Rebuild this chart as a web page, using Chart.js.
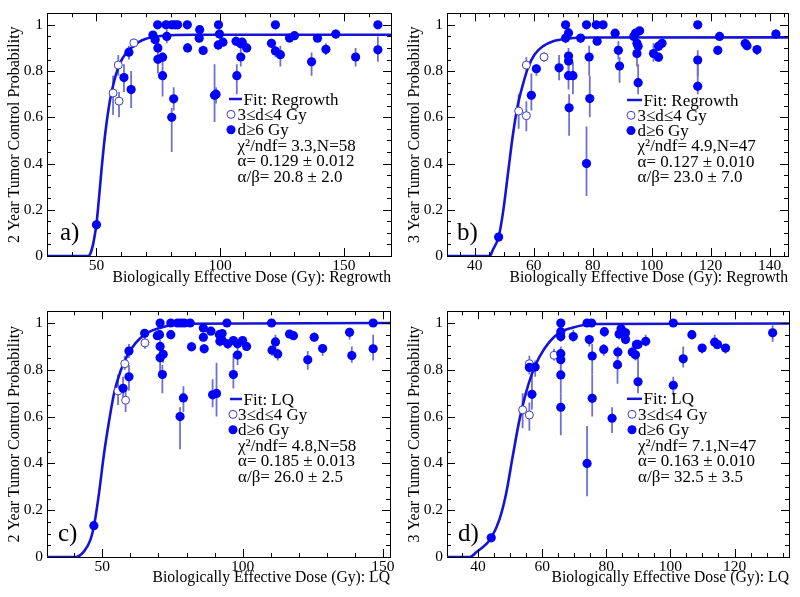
<!DOCTYPE html>
<html><head><meta charset="utf-8">
<script src="https://cdn.jsdelivr.net/npm/chart.js@4/dist/chart.umd.min.js"></script>
<style>
html,body{margin:0;padding:0;background:#fff;}
#wrap{position:relative;width:800px;height:597px;overflow:hidden;background:#fff;}
.panel{position:absolute;}
canvas{display:block;}
</style></head><body>
<div id="wrap">
<div class="panel" style="left:0;top:0"><canvas id="ca" width="400" height="298"></canvas></div>
<div class="panel" style="left:400px;top:0"><canvas id="cb" width="400" height="298"></canvas></div>
<div class="panel" style="left:0;top:298px"><canvas id="cc" width="400" height="299"></canvas></div>
<div class="panel" style="left:400px;top:298px"><canvas id="cd" width="400" height="299"></canvas></div>
</div>
<script>
// ---------- DATA: [dose, probability, errLow, errHigh] ----------
const aOpen = [[56.7,0.705,0.61,0.78],[58.8,0.826,0.78,0.87],[59.1,0.67,0.60,0.71],[65.1,0.922,0.90,0.94]];
const aFilled = [
 [50.0,0.135,0.115,0.155],[61.1,0.772,0.71,0.83],[63.1,0.882,0.85,0.91],[64.0,0.72,0.64,0.80],
 [72.8,0.956,0.94,0.97],[73.7,0.936,0.92,0.95],[74.7,1.0,0.985,1.0],[74.8,0.90,0.87,0.93],
 [74.8,0.851,0.79,0.89],[76.7,0.86,0.82,0.88],[76.7,0.78,0.69,0.82],[78.4,0.95,0.92,0.98],
 [78.1,1.0,0.985,1.0],[80.4,1.0,0.985,1.0],[81.7,1.0,0.985,1.0],[82.8,1.0,0.985,1.0],[86.7,1.0,0.985,1.0],
 [86.8,0.90,0.88,0.92],[80.4,0.60,0.45,0.64],[81.2,0.68,0.63,0.73],[91.7,0.979,0.965,0.99],
 [91.5,0.942,0.925,0.96],[93.1,0.889,0.87,0.91],[97.7,0.695,0.58,0.83],[98.3,0.70,0.66,0.73],
 [99.3,1.0,0.985,1.0],[99.7,0.96,0.94,0.98],[99.2,0.913,0.89,0.93],[101.1,0.925,0.91,0.94],
 [106.4,0.929,0.91,0.95],[108.3,0.918,0.90,0.94],[108.9,0.925,0.91,0.94],[108.3,0.861,0.82,0.90],
 [106.7,0.78,0.70,0.83],[110.7,0.90,0.88,0.92],[120.7,0.92,0.90,0.94],[122.3,1.0,0.985,1.0],
 [122.3,0.887,0.86,0.91],[124.3,0.871,0.82,0.91],[128.0,0.943,0.93,0.96],[130.0,0.953,0.94,0.97],
 [136.9,0.84,0.78,0.88],[139.3,0.942,0.93,0.96],[142.7,0.894,0.87,0.92],[146.7,0.96,0.94,0.98],
 [154.7,0.861,0.82,0.90],[163.7,1.0,0.985,1.0],[163.7,0.892,0.84,0.95]
];
const aFitX = [30,46.5,47.5,48.5,49.3,50,51,52,53,54,55,56,57,58,60,62,64,67,70,75,80,90,169];
const aFitY = [0,0,0.01,0.045,0.09,0.14,0.25,0.37,0.48,0.57,0.645,0.705,0.75,0.79,0.845,0.878,0.9,0.925,0.94,0.951,0.955,0.957,0.957];

const bOpen = [[54.9,0.627,0.55,0.70],[57.5,0.826,0.80,0.86],[57.5,0.607,0.54,0.67],[63.5,0.861,0.84,0.88]];
const bFilled = [
 [48.1,0.082,0.07,0.095],[59.2,0.695,0.63,0.79],[60.9,0.81,0.78,0.83],[68.6,0.814,0.76,0.87],
 [70.8,1.0,0.985,1.0],[71.8,0.965,0.94,0.99],[70.8,0.943,0.92,0.96],[71.8,0.865,0.82,0.90],
 [71.8,0.844,0.80,0.88],[71.8,0.78,0.72,0.84],[72.0,0.641,0.52,0.70],[73.3,0.78,0.70,0.84],
 [75.9,0.943,0.92,0.96],[77.9,1.0,0.985,1.0],[78.8,0.861,0.78,0.91],[79.0,0.681,0.60,0.78],
 [77.9,0.40,0.26,0.56],[81.2,1.0,0.985,1.0],[83.5,1.0,0.985,1.0],[81.5,0.929,0.91,0.95],
 [87.6,0.964,0.95,0.98],[88.7,0.89,0.85,0.93],[89.1,0.822,0.75,0.86],[93.9,0.95,0.93,0.97],
 [94.5,0.964,0.95,0.98],[95.9,0.974,0.96,0.99],[95.0,0.92,0.90,0.94],[95.4,0.907,0.89,0.93],
 [95.0,0.876,0.82,0.96],[95.4,0.75,0.70,0.83],[100.6,0.876,0.84,0.92],[102.3,0.86,0.84,0.88],
 [102.3,0.907,0.89,0.93],[103.5,0.92,0.90,0.94],[115.6,1.0,0.985,1.0],[115.6,0.848,0.78,0.89],
 [115.6,0.734,0.70,0.83],[122.4,0.89,0.87,0.91],[123.0,0.95,0.93,0.97],[131.7,0.919,0.90,0.94],
 [132.3,0.91,0.89,0.93],[135.7,0.893,0.87,0.91],[142.1,0.96,0.94,0.98]
];
const bFitX = [30,45.1,46.2,48.1,49.6,51.3,53.0,54.7,56.4,58.1,60.3,63.2,66.6,71.1,79,146.5];
const bFitY = [0,0,0.028,0.082,0.19,0.36,0.53,0.66,0.745,0.816,0.872,0.908,0.929,0.94,0.945,0.946];

const cOpen = [[55.6,0.71,0.65,0.78],[58.0,0.826,0.80,0.86],[58.3,0.67,0.62,0.72],[65.2,0.915,0.89,0.94]];
const cFilled = [
 [47.0,0.134,0.115,0.155],[57.4,0.721,0.67,0.77],[59.5,0.88,0.85,0.91],[59.5,0.77,0.71,0.82],
 [65.1,0.956,0.94,0.97],[69.6,0.946,0.93,0.96],[70.6,1.0,0.985,1.0],[70.6,0.90,0.86,0.93],
 [70.6,0.851,0.78,0.90],[71.7,0.866,0.83,0.89],[71.4,0.78,0.70,0.82],[70.4,0.95,0.93,0.97],
 [74.4,0.95,0.93,0.97],[74.4,1.0,0.985,1.0],[76.8,1.0,0.985,1.0],[78.0,1.0,0.985,1.0],
 [79.2,1.0,0.985,1.0],[81.3,1.0,0.985,1.0],[81.8,0.898,0.88,0.92],[77.7,0.60,0.46,0.64],
 [78.9,0.68,0.62,0.73],[86.0,0.979,0.965,0.99],[86.0,0.939,0.92,0.96],[86.3,0.89,0.87,0.91],
 [88.7,0.965,0.95,0.98],[89.3,0.693,0.64,0.76],[90.7,0.699,0.60,0.83],[91.7,0.95,0.93,0.97],
 [91.9,0.922,0.90,0.94],[92.7,0.955,0.94,0.97],[92.7,0.926,0.91,0.94],[94.4,1.0,0.985,1.0],
 [94.7,0.911,0.89,0.93],[96.7,0.925,0.91,0.94],[96.7,0.78,0.72,0.87],[98.2,0.911,0.89,0.93],
 [98.2,0.863,0.82,0.89],[100.0,0.925,0.91,0.94],[101.4,0.90,0.88,0.92],[110.3,1.0,0.985,1.0],
 [110.5,0.884,0.86,0.90],[111.7,0.919,0.89,0.95],[112.5,0.868,0.84,0.89],[116.7,0.953,0.94,0.97],
 [118.1,0.946,0.93,0.96],[123.2,0.843,0.80,0.88],[125.5,0.939,0.92,0.96],[128.5,0.891,0.86,0.91],
 [138.1,0.96,0.93,0.98],[138.9,0.861,0.83,0.90],[146.5,1.0,0.985,1.0],[146.5,0.89,0.84,0.95]
];
const cFitX = [30,40.5,43.5,45.8,47.0,48.8,50.6,52.4,54.2,56.5,58.9,61.9,66.1,70.8,78,152.5];
const cFitY = [0,0,0.024,0.074,0.13,0.27,0.44,0.58,0.70,0.795,0.86,0.915,0.958,0.98,0.997,1.0];

const dOpen = [[53.9,0.629,0.55,0.70],[56.0,0.826,0.80,0.86],[56.0,0.607,0.54,0.66],[63.7,0.862,0.84,0.89]];
const dFilled = [
 [44.1,0.082,0.07,0.095],[56.0,0.81,0.78,0.84],[56.8,0.695,0.63,0.79],[57.8,0.812,0.77,0.84],
 [65.8,1.0,0.985,1.0],[65.8,0.963,0.94,0.98],[65.8,0.942,0.92,0.96],[65.8,0.869,0.83,0.90],
 [65.8,0.843,0.80,0.88],[65.8,0.778,0.70,0.84],[65.8,0.64,0.52,0.70],[69.7,0.942,0.92,0.97],
 [74.0,1.0,0.985,1.0],[75.4,1.0,0.985,1.0],[74.7,0.929,0.90,0.95],[75.6,0.859,0.78,0.91],
 [75.6,0.678,0.60,0.78],[74.0,0.40,0.26,0.56],[79.4,0.963,0.94,0.98],[79.2,0.887,0.86,0.91],
 [81.8,0.593,0.53,0.64],[83.6,0.876,0.85,0.90],[83.5,0.822,0.74,0.86],[84.6,0.975,0.96,0.99],
 [84.0,0.953,0.93,0.97],[86.0,0.958,0.94,0.98],[86.0,0.929,0.91,0.95],[88.1,0.876,0.85,0.90],
 [89.1,0.864,0.84,0.89],[89.4,0.908,0.89,0.93],[89.9,0.908,0.89,0.93],[92.3,0.922,0.90,0.95],
 [89.9,0.749,0.70,0.85],[100.9,1.0,0.985,1.0],[100.9,0.734,0.69,0.77],[104.0,0.847,0.81,0.90],
 [106.7,0.95,0.93,0.97],[109.9,0.893,0.87,0.91],[113.8,0.918,0.89,0.95],[114.7,0.908,0.89,0.93],
 [117.2,0.893,0.87,0.91],[131.9,0.958,0.92,0.99]
];
const dFitX = [30,37.4,39.5,42.6,44.1,46.7,48.8,50.8,52.9,54.9,57.0,59.1,62.2,65.3,69.4,75.6,137];
const dFitY = [0,0,0.021,0.056,0.082,0.162,0.275,0.43,0.586,0.70,0.79,0.854,0.918,0.958,0.98,0.996,0.998];

const yTickLabels = ['0','0.2','0.4','0.6','0.8','1'];
const legendA = ['Fit: Regrowth','3\u2264d\u22644 Gy','d\u22656 Gy','\u03c7\u00b2/ndf= 3.3,N=58','\u03b1= 0.129 \u00b1 0.012','\u03b1/\u03b2= 20.8 \u00b1 2.0'];
const legendB = ['Fit: Regrowth','3\u2264d\u22644 Gy','d\u22656 Gy','\u03c7\u00b2/ndf= 4.9,N=47','\u03b1= 0.127 \u00b1 0.010','\u03b1/\u03b2= 23.0 \u00b1 7.0'];
const legendC = ['Fit: LQ','3\u2264d\u22644 Gy','d\u22656 Gy','\u03c7\u00b2/ndf= 4.8,N=58','\u03b1= 0.185 \u00b1 0.013','\u03b1/\u03b2= 26.0 \u00b1 2.5'];
const legendD = ['Fit: LQ','3\u2264d\u22644 Gy','d\u22656 Gy','\u03c7\u00b2/ndf= 7.1,N=47','\u03b1= 0.163 \u00b1 0.010','\u03b1/\u03b2= 32.5 \u00b1 3.5'];

// ---------- STYLE ----------
const FONT = "'Liberation Serif','Times New Roman',serif";
const BLUE = '#0000ff';
const FITC = '#1414d6';
const ERRC = '#7070d4';
const OPENC = '#3c3cc8';

const decoPlugin = {
  id: 'deco',
  beforeDatasetsDraw(chart) {
    const o = chart.options.plugins.deco;
    const ctx = chart.ctx, xs = chart.scales.x, ys = chart.scales.y, a = chart.chartArea;
    ctx.save();
    ctx.beginPath(); ctx.rect(a.left, a.top, a.right - a.left, a.bottom - a.top); ctx.clip();
    ctx.strokeStyle = ERRC; ctx.lineWidth = 1.8;
    for (const arr of [o.open, o.filled]) {
      for (const p of arr) {
        if (p[3] - p[2] <= 0.016) continue;
        const px = xs.getPixelForValue(p[0]);
        ctx.beginPath();
        ctx.moveTo(px, ys.getPixelForValue(p[2]));
        ctx.lineTo(px, ys.getPixelForValue(p[3]));
        ctx.stroke();
      }
    }
    ctx.restore();
  },
  afterDraw(chart) {
    const o = chart.options.plugins.deco;
    const ctx = chart.ctx, xs = chart.scales.x, ys = chart.scales.y, a = chart.chartArea;
    ctx.save();
    ctx.strokeStyle = '#000'; ctx.lineWidth = 1;
    ctx.strokeRect(Math.round(a.left) + 0.5, Math.round(a.top) + 0.5, Math.round(a.right - a.left), Math.round(a.bottom - a.top));
    ctx.beginPath();
    const x0 = Math.ceil(xs.min / o.xMinor - 1e-9) * o.xMinor;
    for (let v = x0; v <= xs.max + 1e-9; v += o.xMinor) {
      const isMaj = Math.abs(v / o.xMajor - Math.round(v / o.xMajor)) < 1e-6;
      const L = isMaj ? 8 : 4;
      const px = Math.round(xs.getPixelForValue(v)) + 0.5;
      ctx.moveTo(px, a.bottom); ctx.lineTo(px, a.bottom - L);
      ctx.moveTo(px, a.top); ctx.lineTo(px, a.top + L);
    }
    for (let k = 0; k <= 21; k++) {
      const v = k * 0.05;
      if (v > ys.max + 1e-9) break;
      const L = (k % 4 === 0) ? 8 : 4;
      const py = Math.round(ys.getPixelForValue(v)) + 0.5;
      ctx.moveTo(a.left, py); ctx.lineTo(a.left + L, py);
      ctx.moveTo(a.right, py); ctx.lineTo(a.right - L, py);
    }
    ctx.stroke();
    const lg = o.legend;
    const yb = i => lg.base0 + i * lg.step;
    ctx.strokeStyle = FITC; ctx.lineWidth = 2.5;
    ctx.beginPath(); ctx.moveTo(lg.lineX1, yb(0) - 5.5); ctx.lineTo(lg.lineX2, yb(0) - 5.5); ctx.stroke();
    ctx.beginPath(); ctx.arc(lg.markX, yb(1) - 5.5, 4, 0, Math.PI * 2);
    ctx.fillStyle = '#fff'; ctx.fill(); ctx.strokeStyle = OPENC; ctx.lineWidth = 1; ctx.stroke();
    ctx.beginPath(); ctx.arc(lg.markX, yb(2) - 5.5, 4.5, 0, Math.PI * 2); ctx.fillStyle = BLUE; ctx.fill();
    ctx.fillStyle = '#000'; ctx.font = '17px ' + FONT; ctx.textBaseline = 'alphabetic'; ctx.textAlign = 'left';
    lg.text.forEach((t, i) => ctx.fillText(t, i === 0 ? lg.fitTextX : lg.textX, yb(i)));
    ctx.font = '25px ' + FONT;
    ctx.fillText(o.letter, o.letterX, o.letterY);
    ctx.restore();
  }
};

function pts(arr) { return arr.map(p => ({x: p[0], y: p[1]})); }
function fitPts(xs, ys) { return xs.map((x, i) => ({x: x, y: ys[i]})); }

function makePanel(P) {
  const canvas = document.getElementById(P.id);
  const H = canvas.height;
  return new Chart(canvas, {
    type: 'scatter',
    data: {
      datasets: [
        { data: fitPts(P.fitX, P.fitY), showLine: true, borderColor: FITC, borderWidth: 2.6,
          pointRadius: 0, cubicInterpolationMode: 'monotone', fill: false, order: 3 },
        { data: pts(P.open), pointRadius: 4, pointStyle: 'circle', backgroundColor: '#fff',
          borderColor: OPENC, borderWidth: 1, order: 2 },
        { data: pts(P.filled), pointRadius: 4.6, pointStyle: 'circle', backgroundColor: BLUE,
          borderColor: BLUE, borderWidth: 0, order: 1 }
      ]
    },
    options: {
      responsive: false, animation: false, events: [],
      layout: { padding: { left: 0, top: P.padTop, right: P.padRight, bottom: 0 } },
      plugins: {
        legend: { display: false }, tooltip: { enabled: false },
        deco: { open: P.open, filled: P.filled, xMajor: P.xMajor, xMinor: P.xMinor,
                legend: P.legend, letter: P.letter, letterX: P.letterX, letterY: P.letterY }
      },
      scales: {
        x: {
          type: 'linear', min: P.xMin, max: P.xMax,
          grid: { display: false, drawTicks: false }, border: { display: false },
          ticks: { stepSize: P.xMajor, includeBounds: false, autoSkip: false, maxRotation: 0,
                   padding: 1, color: '#000', font: { family: FONT, size: 15.5 },
                   callback: v => String(Math.round(v)) },
          title: { display: true, text: P.xTitle, align: 'end', color: '#000',
                   font: { family: FONT, size: 15.7 }, padding: { top: 0, bottom: P.xTitlePad } },
          afterFit: s => { s.height = H - P.areaBottom; }
        },
        y: {
          type: 'linear', min: 0, max: 1.05,
          grid: { display: false, drawTicks: false }, border: { display: false },
          ticks: { stepSize: 0.2, includeBounds: false, autoSkip: false, padding: 4, color: '#000',
                   font: { family: FONT, size: 15.5 },
                   callback: v => yTickLabels[Math.round(v * 5)] },
          title: { display: true, text: P.yTitle, color: '#000',
                   font: { family: FONT, size: 16 }, padding: { top: 5, bottom: 0 } },
          afterFit: s => { s.width = 47; }
        }
      }
    },
    plugins: [decoPlugin]
  });
}

makePanel({ id: 'ca', open: aOpen, filled: aFilled, fitX: aFitX, fitY: aFitY,
  xMin: 30, xMax: 169, xMajor: 50, xMinor: 10, padTop: 9, padRight: 9, areaBottom: 256, xTitlePad: 10.5,
  xTitle: 'Biologically Effective Dose (Gy): Regrowth', yTitle: '2 Year Tumor Control Probability',
  letter: 'a)', letterX: 60, letterY: 240,
  legend: { text: legendA, lineX1: 229, lineX2: 242, markX: 231, fitTextX: 243.5, textX: 237.5, base0: 104.5, step: 15.4 } });

makePanel({ id: 'cb', open: bOpen, filled: bFilled, fitX: bFitX, fitY: bFitY,
  xMin: 30.6, xMax: 146.2, xMajor: 20, xMinor: 5, padTop: 9, padRight: 12, areaBottom: 256, xTitlePad: 10.5,
  xTitle: 'Biologically Effective Dose (Gy): Regrowth', yTitle: '3 Year Tumor Control Probability',
  letter: 'b)', letterX: 57, letterY: 240,
  legend: { text: legendB, lineX1: 227, lineX2: 242, markX: 231, fitTextX: 243.5, textX: 237.5, base0: 105.5, step: 15.3 } });

makePanel({ id: 'cc', open: cOpen, filled: cFilled, fitX: cFitX, fitY: cFitY,
  xMin: 30.3, xMax: 152.5, xMajor: 50, xMinor: 10, padTop: 11, padRight: 10, areaBottom: 259, xTitlePad: 9.2,
  xTitle: 'Biologically Effective Dose (Gy): LQ', yTitle: '2 Year Tumor Control Probability',
  letter: 'c)', letterX: 58, letterY: 243,
  legend: { text: legendC, lineX1: 230, lineX2: 242, markX: 233, fitTextX: 243.5, textX: 238, base0: 106.5, step: 15.4 } });

makePanel({ id: 'cd', open: dOpen, filled: dFilled, fitX: dFitX, fitY: dFitY,
  xMin: 30.3, xMax: 137, xMajor: 20, xMinor: 5, padTop: 11, padRight: 11, areaBottom: 259, xTitlePad: 9.2,
  xTitle: 'Biologically Effective Dose (Gy): LQ', yTitle: '3 Year Tumor Control Probability',
  letter: 'd)', letterX: 58, letterY: 243,
  legend: { text: legendD, lineX1: 227, lineX2: 242, markX: 232, fitTextX: 243.5, textX: 238, base0: 106.3, step: 15.5 } });
</script>
</body></html>
